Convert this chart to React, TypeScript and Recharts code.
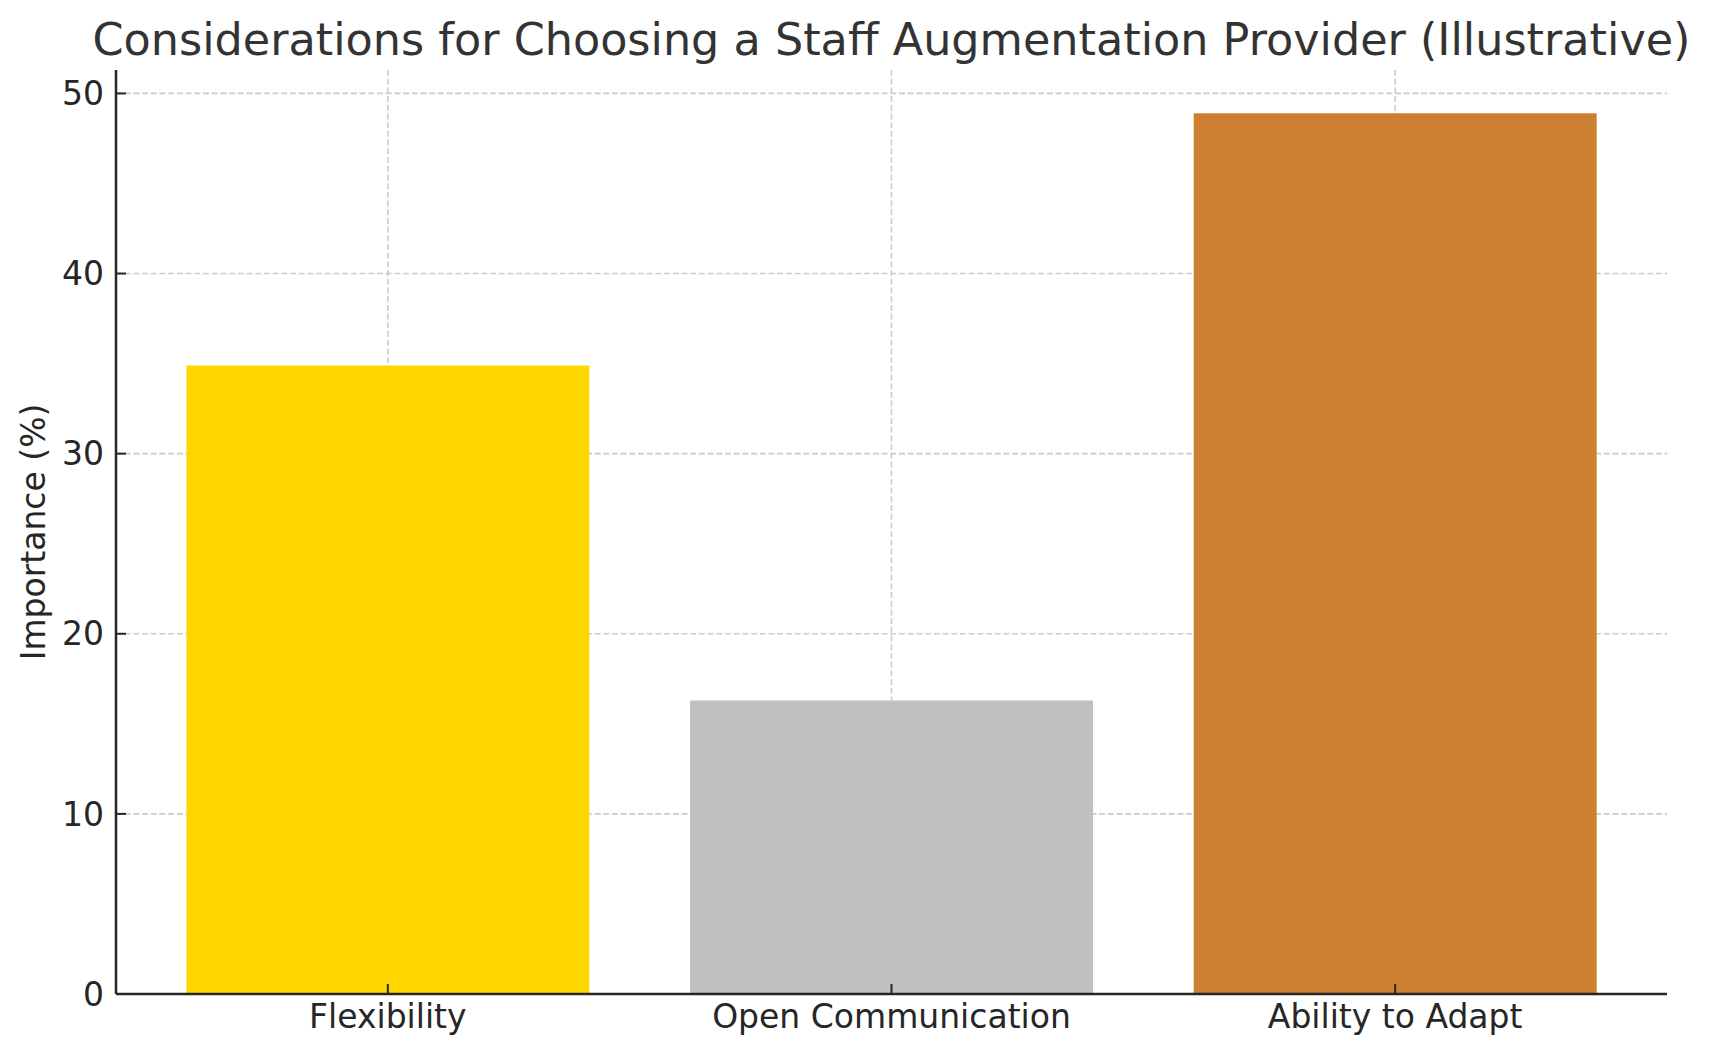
import React from 'react';
import { BarChart, Bar, XAxis, YAxis, CartesianGrid, Cell } from 'recharts';

const categories = ['Flexibility', 'Open Communication', 'Ability to Adapt'];
const importance = [34.9, 16.3, 48.9];
const barColors = ['#FFD700', '#C0C0C0', '#CD7F32'];
const yTicks = [0, 10, 20, 30, 40, 50];

const data = categories.map((c, i) => ({ category: c, value: importance[i] }));

const FONT = '"DejaVu Sans", sans-serif';

export default function App() {
  const W = 1694;
  const H = 1041;
  const plotLeft = 108;
  const plotWidth = 1551;
  const titleCenter = plotLeft + plotWidth / 2;
  return (
    <div style={{ position: 'relative', width: W, height: H, fontFamily: FONT }}>
      <BarChart
        width={W}
        height={H}
        data={data}
        margin={{ top: 62, right: 35, bottom: 5, left: 28 }}
        barCategoryGap="10%"
      >
        <XAxis
          dataKey="category"
          padding={{ left: 20, right: 20 }}
          height={50}
          tick={{ fontSize: 33, fill: '#262626', fontFamily: FONT }}
          tickSize={-10}
          tickMargin={21}
          tickLine={{ stroke: '#262626', strokeWidth: 2 }}
          axisLine={{ stroke: '#262626', strokeWidth: 2.5 }}
        />
        <YAxis
          width={80}
          domain={[0, 51.3]}
          ticks={yTicks}
          allowDataOverflow
          tick={{ fontSize: 33, fill: '#262626', fontFamily: FONT }}
          tickSize={-10}
          tickMargin={22}
          tickLine={{ stroke: '#262626', strokeWidth: 2 }}
          axisLine={{ stroke: '#262626', strokeWidth: 2.5 }}
          label={{
            content: (props: any) => {
              const vb = props.viewBox || { x: 28, y: 62, width: 80, height: 924 };
              const cx = vb.x - 3;
              const cy = vb.y + vb.height / 2;
              return (
                <text
                  x={cx}
                  y={cy}
                  transform={`rotate(-90, ${cx}, ${cy})`}
                  textAnchor="middle"
                  dominantBaseline="central"
                  fontSize={33}
                  fill="#262626"
                  fontFamily={FONT}
                >
                  Importance (%)
                </text>
              );
            },
          }}
        />
        <Bar dataKey="value" isAnimationActive={false}>
          {data.map((d, i) => (
            <Cell key={d.category} fill={barColors[i]} />
          ))}
        </Bar>
        <CartesianGrid
          stroke="#cccccc"
          strokeWidth={1.6}
          strokeDasharray="6 2.7"
          syncWithTicks
        />
      </BarChart>
      <div
        style={{
          position: 'absolute',
          left: titleCenter - 1000,
          width: 2000,
          top: 10,
          textAlign: 'center',
          fontSize: 44.5,
          lineHeight: '44px',
          color: '#333333',
          fontFamily: FONT,
          whiteSpace: 'nowrap',
          pointerEvents: 'none',
        }}
      >
        Considerations for Choosing a Staff Augmentation Provider (Illustrative)
      </div>
    </div>
  );
}
